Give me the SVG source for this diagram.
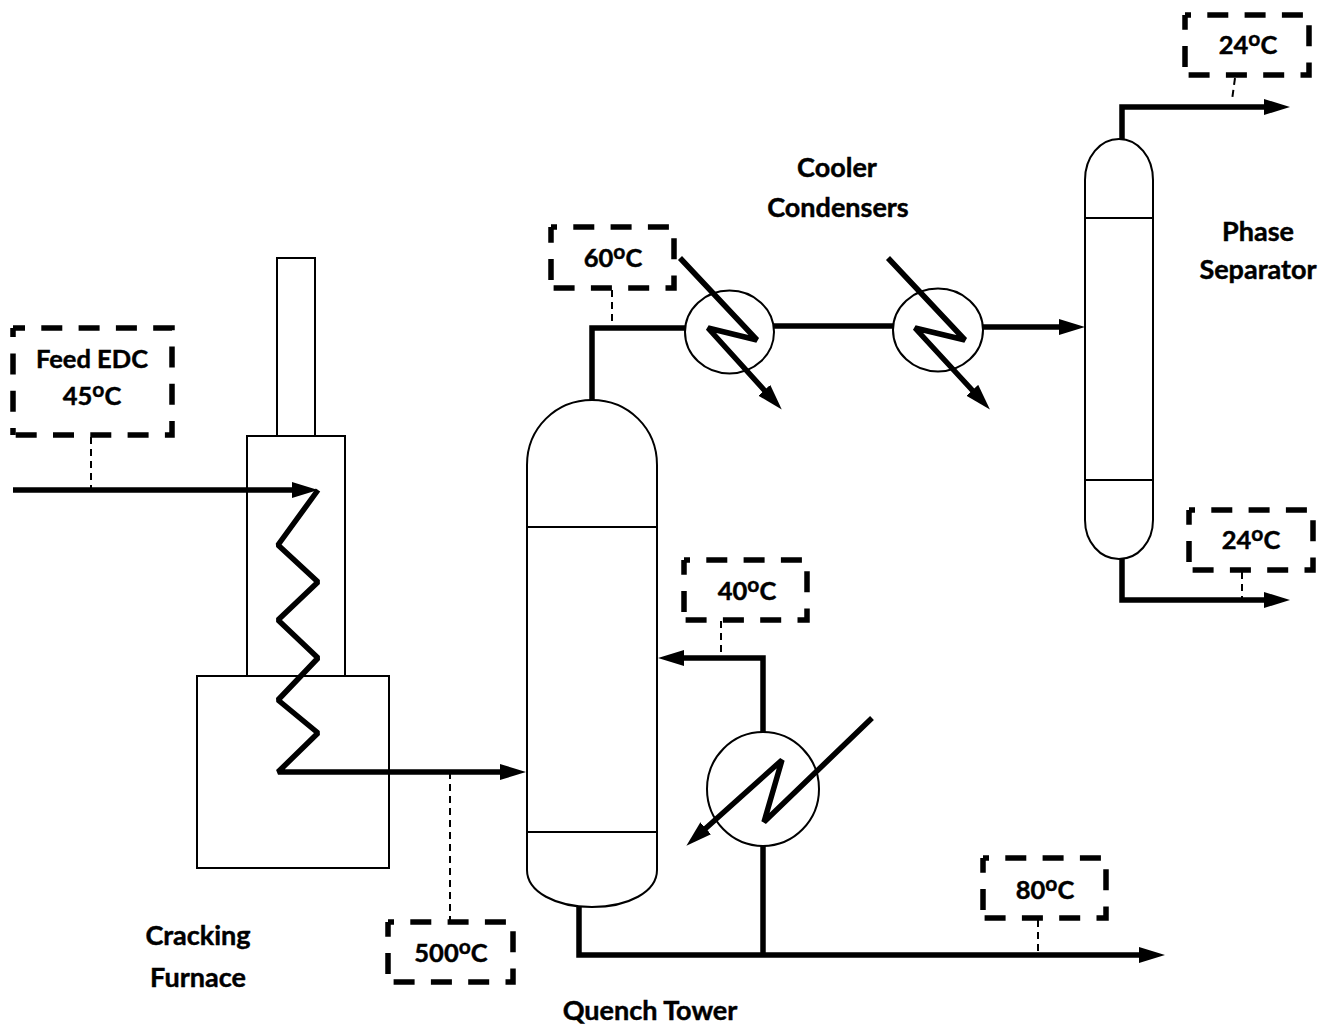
<svg xmlns="http://www.w3.org/2000/svg" width="1328" height="1026" viewBox="0 0 1328 1026">
<style>
text{font-family:"Lato","Liberation Sans",sans-serif;font-weight:700;font-size:27px;fill:#000;stroke:#000;stroke-width:.45;text-anchor:middle}
.t{font-size:25.500px}
.s{font-size:21px}
.eq{fill:#fff;stroke:#000;stroke-width:2}
.pipe{fill:none;stroke:#000;stroke-width:5.500;stroke-linejoin:miter}
.zig{stroke-linejoin:bevel}
.lead{fill:none;stroke:#000;stroke-width:2;stroke-dasharray:7 5}
.tag{fill:none;stroke:#000;stroke-width:5.500;stroke-dasharray:21 16.300;stroke-dashoffset:15}
.left{stroke-dashoffset:29.300}
</style>
<defs>
<marker id="ah" markerUnits="userSpaceOnUse" markerWidth="27" markerHeight="18" refX="1" refY="9" orient="auto"><path d="M0 1 L26 9 L0 17Z" fill="#000"/></marker>
</defs>
<rect width="1328" height="1026" fill="#fff"/>
<g id="furnace">
<rect class="eq" x="277" y="258" width="38" height="178"/>
<rect class="eq" x="247" y="436" width="98" height="240"/>
<rect class="eq" x="197" y="676" width="192" height="192"/>
</g>
<g id="quench-tower">
<path class="eq" d="M527 465C527 428 556 400 592 400C628 400 657 428 657 465V870C657 892 628 907 592 907C556 907 527 892 527 870Z"/>
<path class="eq" d="M527 527H657M527 832H657"/>
</g>
<g id="phase-separator">
<path class="eq" d="M1085 180C1085 157 1100 139 1119 139C1138 139 1153 157 1153 180V520C1153 542 1138 559 1119 559C1100 559 1085 542 1085 520Z"/>
<path class="eq" d="M1085 218H1153M1085 480H1153"/>
</g>
<g id="condenser-1"><ellipse class="eq" cx="729.500" cy="332" rx="44.500" ry="41.500"/></g>
<g id="condenser-2"><ellipse class="eq" cx="938" cy="330" rx="45" ry="41.500"/></g>
<g id="quench-cooler"><ellipse class="eq" cx="763" cy="789" rx="56" ry="57"/></g>
<g id="connectors">
<path class="pipe" d="M13 490H293" marker-end="url(#ah)"/>
<path class="pipe zig" d="M318 490L278 545L318 582L278 620L318 658L278 700L318 733L278 772H501" marker-end="url(#ah)"/>
<path class="pipe" d="M592 400V328H685"/>
<path class="pipe" d="M774 326H893"/>
<path class="pipe" d="M983 327H1060" marker-end="url(#ah)"/>
<path class="pipe zig" d="M680 258L757 340L708 328L765 391" marker-end="url(#ah)"/>
<path class="pipe zig" d="M888 258L965 340L915 328L973 391" marker-end="url(#ah)"/>
<path class="pipe" d="M763 732V658H683" marker-end="url(#ah)"/>
<path class="pipe zig" d="M872 718L764 822L782 760L705 829" marker-end="url(#ah)"/>
<path class="pipe" d="M763 846V955"/>
<path class="pipe" d="M579 907V955H1140" marker-end="url(#ah)"/>
<path class="pipe" d="M1122 139V107H1265" marker-end="url(#ah)"/>
<path class="pipe" d="M1122 559V600H1265" marker-end="url(#ah)"/>
<path class="lead" d="M91 437V490"/>
<path class="lead" d="M612 290V327"/>
<path class="lead" d="M450 772V921"/>
<path class="lead" d="M721 621V658"/>
<path class="lead" d="M1038 920V955"/>
<path class="lead" d="M1235 78L1232 100"/>
<path class="lead" d="M1242 572V599"/>
</g>
<g id="tag-feed"><path class="tag" style="stroke-dashoffset:9" d="M13 328H172V435H13"/><path class="tag" style="stroke-dashoffset:14" d="M13 435V328"/><text class="t" x="92" y="368">Feed EDC</text><text class="t" x="92" y="405">45<tspan class="s" dy="-8">o</tspan><tspan dy="8">C</tspan></text></g>
<g id="tag-60"><path class="tag" d="M551 227H674V288H551"/><path class="tag left" d="M551 288V227"/><text class="t" x="613" y="267">60<tspan class="s" dy="-8">o</tspan><tspan dy="8">C</tspan></text></g>
<g id="tag-500"><path class="tag" d="M388 922H513V982H388"/><path class="tag left" d="M388 982V922"/><text class="t" x="451" y="962">500<tspan class="s" dy="-8">o</tspan><tspan dy="8">C</tspan></text></g>
<g id="tag-40"><path class="tag" d="M684 560H807V620H684"/><path class="tag left" d="M684 620V560"/><text class="t" x="747" y="600">40<tspan class="s" dy="-8">o</tspan><tspan dy="8">C</tspan></text></g>
<g id="tag-80"><path class="tag" d="M983 858H1106V918H983"/><path class="tag left" d="M983 918V858"/><text class="t" x="1045" y="899">80<tspan class="s" dy="-8">o</tspan><tspan dy="8">C</tspan></text></g>
<g id="tag-24-top"><path class="tag" d="M1185 15H1309V75H1185"/><path class="tag left" d="M1185 75V15"/><text class="t" x="1248" y="54">24<tspan class="s" dy="-8">o</tspan><tspan dy="8">C</tspan></text></g>
<g id="tag-24-bottom"><path class="tag" d="M1189 510H1313V570H1189"/><path class="tag left" d="M1189 570V510"/><text class="t" x="1251" y="549">24<tspan class="s" dy="-8">o</tspan><tspan dy="8">C</tspan></text></g>
<g id="labels">
<text x="837" y="177">Cooler</text><text x="838" y="217">Condensers</text>
<text x="1258" y="241">Phase</text><text x="1258" y="279">Separator</text>
<text x="198" y="945">Cracking</text><text x="198" y="987">Furnace</text>
<text x="650" y="1020">Quench Tower</text>
</g>
</svg>
